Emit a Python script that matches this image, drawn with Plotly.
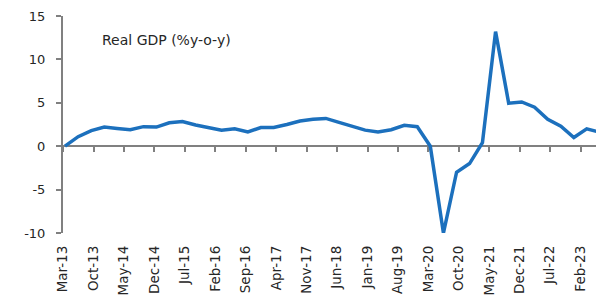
import plotly.graph_objects as go

quarters = [
    "2013-03-15", "2013-06-15", "2013-09-15", "2013-12-15",
    "2014-03-15", "2014-06-15", "2014-09-15", "2014-12-15",
    "2015-03-15", "2015-06-15", "2015-09-15", "2015-12-15",
    "2016-03-15", "2016-06-15", "2016-09-15", "2016-12-15",
    "2017-03-15", "2017-06-15", "2017-09-15", "2017-12-15",
    "2018-03-15", "2018-06-15", "2018-09-15", "2018-12-15",
    "2019-03-15", "2019-06-15", "2019-09-15", "2019-12-15",
    "2020-03-15", "2020-06-15", "2020-09-15", "2020-12-15",
    "2021-03-15", "2021-06-15", "2021-09-15", "2021-12-15",
    "2022-03-15", "2022-06-15", "2022-09-15", "2022-12-15",
    "2023-03-15", "2023-06-15",
]
real_gdp = [
    0.0, 1.1, 1.8, 2.2,
    2.05, 1.9, 2.25, 2.2,
    2.7, 2.85, 2.45, 2.15,
    1.85, 2.0, 1.65, 2.15,
    2.15, 2.5, 2.9, 3.1,
    3.2, 2.75, 2.3, 1.85,
    1.65, 1.9, 2.4, 2.25,
    0.0, -10.0, -3.0, -2.0,
    0.4, 13.2, 4.95, 5.1,
    4.5, 3.1, 2.3, 1.0,
    2.0, 1.6,
]
series_label = "Real GDP (%y-o-y)"
y_ticks = [-10, -5, 0, 5, 10, 15]
y_tick_text = ["-10", "-5", "0", "5", "10", "15"]

font_family = "DejaVu Sans"
text_color = "#262626"
axis_color = "#808080"

fig = go.Figure()
fig.add_trace(go.Scatter(
    x=quarters, y=real_gdp, mode="lines",
    line=dict(color="#1c70bd", width=3.5),
    showlegend=False, hoverinfo="skip",
))
# transparent copy so that the zero-crossing axis is drawn
fig.add_trace(go.Scatter(
    x=quarters, y=real_gdp, mode="lines", xaxis="x2",
    line=dict(color="rgba(0,0,0,0)", width=0),
    showlegend=False, hoverinfo="skip",
))

x_range = ["2013-03-01", "2023-07-14"]

# the page body adds an 8px margin, so the figure is sized to fit inside it
fig.update_layout(
    width=596, height=290,
    margin=dict(l=55, r=0, t=8, b=65, autoexpand=False),
    paper_bgcolor="white", plot_bgcolor="white",
    font=dict(family=font_family, color=text_color),
    xaxis=dict(
        type="date", range=x_range, automargin=False,
        tick0="2013-03-01", dtick="M7", tickformat="%b-%y",
        tickangle=-90, showgrid=False, zeroline=False, showline=False,
        ticks="", ticklabelstandoff=9,
        tickfont=dict(size=13.5, family=font_family, color=text_color),
    ),
    xaxis2=dict(
        type="date", range=x_range, matches="x", overlaying="x",
        anchor="free", position=0.4, side="bottom", automargin=False,
        tick0="2013-03-01", dtick="M7",
        showticklabels=False, showgrid=False, zeroline=False,
        showline=True, linecolor=axis_color, linewidth=2,
        ticks="outside", ticklen=5, tickwidth=1.5, tickcolor=axis_color,
        layer="below traces",
    ),
    yaxis=dict(
        range=[-10, 15], tickvals=y_ticks, ticktext=y_tick_text,
        showgrid=False, zeroline=False, automargin=False,
        showline=True, linecolor=axis_color, linewidth=2,
        ticks="outside", ticklen=5, tickwidth=1.5, tickcolor=axis_color,
        ticklabelstandoff=8,
        tickfont=dict(size=13, family=font_family, color=text_color),
        layer="below traces",
    ),
    annotations=[dict(
        text=series_label, xref="paper", yref="paper",
        x=0.069, y=0.889, xanchor="left", yanchor="middle",
        showarrow=False, font=dict(size=14, family=font_family, color=text_color),
    )],
)

fig.write_html("out.html")
